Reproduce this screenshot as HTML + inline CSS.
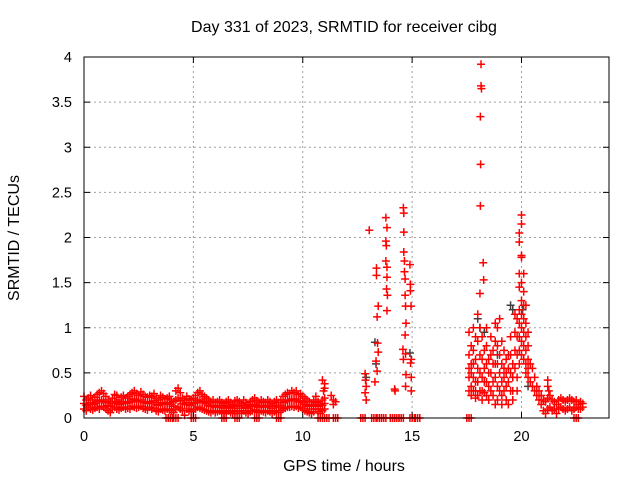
<!DOCTYPE html>
<html><head><meta charset="utf-8"><style>
body{margin:0;background:#fff}
svg text{font-family:"Liberation Sans",sans-serif;fill:#000}
</style></head><body>
<svg id="chart" width="640" height="480" viewBox="0 0 640 480" xmlns="http://www.w3.org/2000/svg">
<rect width="640" height="480" fill="#fff"/>
<text x="344" y="32" font-size="16" text-anchor="middle">Day 331 of 2023, SRMTID for receiver cibg</text>
<text x="344" y="471" font-size="16" text-anchor="middle">GPS time / hours</text>
<text x="0" y="0" font-size="16" text-anchor="middle" transform="translate(19,238) rotate(-90)">SRMTID / TECUs</text>
<g id="grid"></g><g id="marks"></g><g id="axes"></g>
</svg>
<script>
const xTicks=[0,5,10,15,20];
const yTicks=[0,0.5,1,1.5,2,2.5,3,3.5,4];
const yTickLabels=["0","0.5","1","1.5","2","2.5","3","3.5","4"];
const noiseStart=0.0, noiseStep=0.1;
const noiseHi=[.24,.2,.22,.25,.2,.23,.26,.28,.3,.27,.24,.2,.18,.22,.26,.25,.2,.23,.25,.22,.24,.26,.28,.3,.27,.25,.29,.26,.24,.23,.25,.24,.27,.22,.2,.25,.23,.21,.22,.24,.2,.18,.3,.33,.28,.22,.2,.24,.21,.2,.22,.25,.28,.3,.26,.24,.22,.2,.18,.2,.17,.18,.2,.17,.16,.18,.2,.17,.15,.19,.2,.18,.16,.2,.17,.15,.18,.2,.22,.19,.17,.2,.18,.17,.2,.18,.16,.18,.2,.17,.2,.24,.26,.28,.27,.3,.28,.3,.26,.27,.24,.22,.2,.18,.15,.2,.24,.18,.15,.2,.22];
const noiseMid=[.16,.14,.15,.17,.15,.16,.18,.19,.2,.18,.17,.14,.13,.16,.18,.17,.15,.16,.18,.16,.17,.18,.2,.21,.19,.18,.2,.18,.17,.16,.18,.17,.19,.15,.14,.17,.16,.15,.16,.17,.15,.13,.2,.22,.19,.16,.15,.17,.15,.14,.16,.17,.19,.2,.18,.17,.16,.14,.13,.14,.12,.13,.14,.12,.11,.13,.14,.12,.11,.13,.14,.13,.11,.14,.12,.11,.13,.14,.15,.13,.12,.14,.13,.12,.14,.13,.11,.13,.14,.12,.14,.17,.18,.2,.19,.21,.2,.21,.18,.19,.17,.15,.14,.13,.1,.14,.17,.13,.1,.14,.16];
const noiseLo=[.1,.08,.12,.1,.09,.11,.12,.1,.13,.12,.1,.08,.06,.1,.12,.1,.09,.11,.12,.1,.11,.1,.13,.12,.11,.12,.13,.11,.1,.09,.12,.1,.11,.08,.07,.1,.09,.08,.1,.09,.08,.06,.1,.12,.1,.08,.03,.1,.08,.07,.09,.1,.12,.11,.1,.09,.08,.07,.06,.08,.06,.07,.08,.06,.05,.07,.08,.06,.05,.07,.08,.07,.05,.08,.06,.05,.07,.08,.09,.07,.06,.08,.07,.06,.08,.07,.05,.07,.08,.06,.08,.1,.11,.12,.12,.13,.12,.13,.11,.12,.1,.08,.07,.06,.05,.07,.1,.07,.05,.08,.1];
const lateStart=21.0;
const lateHi=[.2,.18,.22,.25,.2,.18,.15,.2,.22,.2,.18,.2,.22,.2,.18,.2,.15,.18,.16];
const lateLo=[.08,.05,.1,.12,.08,.1,.05,.1,.12,.1,.08,.1,.12,.08,.1,.12,.1,.1,.12];
const burstTimes=[10.9,11.0,11.0,10.95,11.4,11.4,11.5,11.3,
12.85,12.87,12.9,12.85,12.9,13.04,13.37,13.37,13.45,13.4,13.42,13.45,13.35,13.4,13.3,
13.8,13.85,13.8,13.82,13.8,13.85,13.85,13.83,13.87,13.85,14.2,14.22,
14.6,14.62,14.62,14.62,14.65,14.65,14.68,14.68,14.7,14.72,14.68,14.58,14.6,14.7,14.7,14.72,
14.9,14.92,14.92,14.95,14.96,14.93,14.96,14.96,
18.15,18.15,18.17,18.12,18.13,18.12,18.25,18.27,18.1,
17.6,17.6,17.6,17.6,17.6,17.7,17.7,17.7,17.7,17.7,17.8,17.8,17.8,17.8,17.8,17.9,17.9,17.9,17.9,17.9,
18.0,18.0,18.0,18.0,18.0,18.1,18.1,18.1,18.1,18.2,18.2,18.2,18.2,18.2,18.3,18.3,18.3,18.3,
18.4,18.4,18.4,18.4,18.4,18.5,18.5,18.5,18.5,18.6,18.6,18.6,18.6,18.7,18.7,18.7,18.7,
18.8,18.8,18.8,18.8,18.8,18.9,18.9,18.9,18.9,18.9,19.0,19.0,19.0,19.0,19.1,19.1,19.1,19.1,19.1,
19.2,19.2,19.2,19.2,19.3,19.3,19.3,19.3,19.4,19.4,19.4,19.4,19.5,19.5,19.5,19.5,19.6,19.6,19.6,19.6,
19.7,19.7,19.7,19.7,19.8,19.8,19.8,19.8,19.8,
19.9,19.9,19.9,19.9,19.9,19.9,19.9,19.9,19.9,
20.0,20.0,20.0,20.0,20.0,20.0,20.0,20.0,20.0,20.0,
20.1,20.1,20.1,20.1,20.1,20.1,20.1,20.2,20.2,20.2,20.2,20.2,20.2,20.3,20.3,20.3,20.3,20.3,
20.4,20.4,20.5,20.5,20.6,20.6,20.7,20.7,20.8,20.8,20.9,20.9,21.2,21.2,21.25];
const burstValues=[.42,.38,.33,.3,.2,.15,.18,.25,
.49,.42,.35,.28,.2,2.08,1.66,1.58,1.24,1.12,.83,.73,.63,.52,.4,
2.22,2.11,1.96,1.91,1.74,1.67,1.56,1.43,1.36,1.19,.32,.3,
2.33,2.27,2.06,1.84,1.74,1.62,1.54,1.36,1.24,1.05,.92,.76,.65,.71,.35,.48,
1.7,1.48,1.41,1.24,.65,.61,.45,.3,
3.92,3.68,3.65,3.34,2.81,2.35,1.72,1.53,1.38,
.95,.7,.55,.45,.3,.8,.6,.5,.35,.25,1.0,.75,.6,.45,.3,.9,.65,.4,.3,.22,
1.15,.85,.55,.4,.25,1.0,.7,.5,.3,.9,.65,.45,.3,.2,.75,.55,.4,.28,
1.0,.8,.6,.4,.25,.65,.5,.35,.2,.9,.7,.5,.3,.75,.6,.4,.25,
1.05,.85,.6,.45,.15,1.0,.8,.6,.35,.2,1.1,.7,.5,.3,.85,.6,.4,.25,.15,
.75,.55,.45,.3,.65,.5,.35,.2,.7,.55,.4,.15,.9,.7,.5,.3,.6,.45,.3,.2,
1.15,.95,.75,.55,1.1,.9,.7,.45,.3,
2.05,1.95,1.6,1.45,1.2,1.05,.9,.75,.6,
2.25,2.15,1.8,1.78,1.5,1.3,1.15,1.0,.85,.7,
1.6,1.4,1.25,1.1,.95,.8,.65,1.25,1.05,.9,.75,.6,.5,.95,.8,.65,.55,.45,
.6,.4,.55,.35,.45,.3,.35,.25,.3,.2,.25,.15,.42,.35,.3];
const zeroTimes=[3.85,3.95,4.2,5.0,6.4,7.0,7.9,8.9,10.8,11.1,11.5,12.75,13.25,13.5,13.7,14.1,14.3,14.5,15.0,15.25,17.6,22.5];
const grayTimes=[13.3,13.35,14.9,18.0,18.1,18.3,19.5,19.6,20.3,20.05,12.9,18.9];
const grayValues=[.84,.6,.72,1.1,1.0,.95,1.25,1.2,.35,1.2,.45,.7];

const X0=84,X1=609,Y0=418,Y1=57,XMAX=24,YMAX=4;
const xs=t=>X0+t/XMAX*(X1-X0);
const ys=v=>Y0-v/YMAX*(Y0-Y1);
const NS="http://www.w3.org/2000/svg";
function mk(tag,attrs,parent){const e=document.createElementNS(NS,tag);for(const k in attrs)e.setAttribute(k,attrs[k]);parent.appendChild(e);return e;}
const grid=document.getElementById('grid'),marks=document.getElementById('marks'),axes=document.getElementById('axes');
xTicks.forEach(t=>{
  if(t>0){const l=mk('line',{x1:xs(t),x2:xs(t),y1:Y0,y2:Y1,stroke:'#a0a0a0','stroke-dasharray':'2,3','stroke-width':1},grid);
  
  }
  mk('line',{x1:xs(t),x2:xs(t),y1:Y0,y2:Y0-6,stroke:'#000'},axes);
  mk('line',{x1:xs(t),x2:xs(t),y1:Y1,y2:Y1+6,stroke:'#000'},axes);
  const tx=mk('text',{x:xs(t),y:Y0+23,'font-size':14.5,'text-anchor':'middle'},axes);tx.textContent=t;
  
  
});
yTicks.forEach((v,i)=>{
  if(v>0&&v<YMAX){const l=mk('line',{x1:X0,x2:X1,y1:ys(v),y2:ys(v),stroke:'#a0a0a0','stroke-dasharray':'2,3','stroke-width':1},grid);
  
  }
  mk('line',{x1:X0,x2:X0+6,y1:ys(v),y2:ys(v),stroke:'#000'},axes);
  mk('line',{x1:X1,x2:X1-6,y1:ys(v),y2:ys(v),stroke:'#000'},axes);
  const tx=mk('text',{x:X0-12,y:ys(v)+5,'font-size':14.5,'text-anchor':'end'},axes);tx.textContent=yTickLabels[i];
  
  
});
const frame=mk('rect',{x:X0,y:Y1,width:X1-X0,height:Y0-Y1,fill:'none',stroke:'#000','stroke-width':1},axes);


function plus(t,v,col){
  const x=xs(t),y=ys(v);
  const p=mk('path',{d:`M${x-4},${y}H${x+4}M${x},${y-4}V${y+4}`,stroke:col,'stroke-width':1.5,fill:'none'},marks);
  
  
}
grayTimes.forEach((t,i)=>plus(t,grayValues[i],'#404040'));
[noiseHi,noiseMid,noiseLo].forEach(arr=>arr.forEach((v,i)=>plus(noiseStart+i*noiseStep,v,'#ff0000')));
[lateHi,lateLo].forEach(arr=>arr.forEach((v,i)=>plus(lateStart+i*noiseStep,v,'#ff0000')));
burstTimes.forEach((t,i)=>plus(t,burstValues[i],'#ff0000'));
zeroTimes.forEach(t=>{plus(t-0.1,0,'#ff0000');plus(t,0,'#ff0000');plus(t+0.1,0,'#ff0000');});
</script>
</body></html>
